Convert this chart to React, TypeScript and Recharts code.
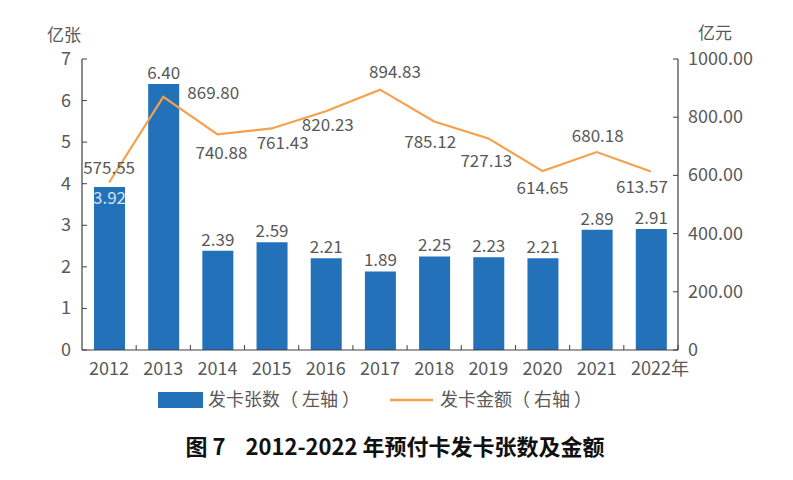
import React from 'react';
import { ComposedChart, Bar, Line, XAxis, YAxis, LabelList } from 'recharts';

const years = ['2012', '2013', '2014', '2015', '2016', '2017', '2018', '2019', '2020', '2021', '2022年'];
const cardCounts = [3.92, 6.40, 2.39, 2.59, 2.21, 1.89, 2.25, 2.23, 2.21, 2.89, 2.91];
const cardAmounts = [575.55, 869.80, 740.88, 761.43, 820.23, 894.83, 785.12, 727.13, 614.65, 680.18, 613.57];
const leftTicks = [0, 1, 2, 3, 4, 5, 6, 7];
const rightTicks = [0, 200, 400, 600, 800, 1000];

// label placement (dx, dy) relative to each line point
const amountLabelOffsets: [number, number][] = [
  [0, -15], [50, -4], [4, 19], [11, 15], [2, 14], [15, -18],
  [-4, 20], [-2, 23], [0, 17], [1, -16], [-9, 16],
];

const data = years.map((y, i) => ({ year: y, count: cardCounts[i], amount: cardAmounts[i] }));

const FONT = '"Noto Sans CJK SC", "Noto Sans", sans-serif';
const GRAY = '#595959';
const AXIS = '#404040';
const BLUE = '#2271b9';
const ORANGE = '#f7a04b';
const NB = '\u00A0';

const LeftTick = (p: any) => {
  const { x, y, payload } = p;
  return (
    <g>
      <line x1={x} x2={x + 5} y1={y} y2={y} stroke={AXIS} strokeWidth={1} />
      <text x={x - 11} y={y} dy={6} textAnchor="end" fontSize={18} fill={GRAY} fontFamily={FONT}>
        {payload.value}
      </text>
    </g>
  );
};

const RightTick = (p: any) => {
  const { x, y, payload } = p;
  const v = payload.value === 0 ? '0' : Number(payload.value).toFixed(2);
  return (
    <g>
      <line x1={x - 5} x2={x} y1={y} y2={y} stroke={AXIS} strokeWidth={1} />
      <text x={x + 10} y={y} dy={6} textAnchor="start" fontSize={18} fill={GRAY} fontFamily={FONT}>
        {v}
      </text>
    </g>
  );
};

const BottomTick = (p: any) => {
  const { x, y, payload, index } = p;
  const half = payload && payload.offset ? payload.offset : (678 - 82) / 11 / 2;
  const isLast = index === years.length - 1;
  return (
    <g>
      <line x1={x + half} x2={x + half} y1={y} y2={y - 5} stroke={AXIS} strokeWidth={1} />
      <text x={isLast ? x + 9 : x} y={y + 25} textAnchor="middle" fontSize={18} fill={GRAY} fontFamily={FONT}>
        {payload.value}
      </text>
    </g>
  );
};

const BarLabel = (p: any) => {
  const { x, y, width, value, index } = p;
  const inside = index === 0;
  return (
    <text
      x={x + width / 2}
      y={inside ? y + 11 : y - 11}
      dy={6}
      textAnchor="middle"
      fontSize={17}
      fill={inside ? '#d6e1ee' : GRAY}
      fontFamily={FONT}
    >
      {Number(value).toFixed(2)}
    </text>
  );
};

const LineLabel = (p: any) => {
  const { x, y, value, index } = p;
  const [dx, dy] = amountLabelOffsets[index] || [0, -12];
  return (
    <text x={x + dx} y={y + dy} dy={6} textAnchor="middle" fontSize={17} fill={GRAY} fontFamily={FONT}>
      {Number(value).toFixed(2)}
    </text>
  );
};

export default function App() {
  return (
    <div style={{ position: 'absolute', left: 0, top: 0, width: 793, height: 480, background: '#fff', fontFamily: FONT }}>
      <ComposedChart
        width={793}
        height={480}
        data={data}
        margin={{ top: 59, right: 0, bottom: 100, left: 0 }}
      >
        <XAxis
          dataKey="year"
          height={30}
          tickLine={false}
          tickSize={0}
          tickMargin={0}
          axisLine={{ stroke: AXIS, strokeWidth: 1.2 }}
          tick={<BottomTick />}
          interval={0}
        />
        <YAxis
          yAxisId="l"
          width={82}
          domain={[0, 7]}
          ticks={leftTicks}
          tickLine={false}
          tickSize={0}
          tickMargin={0}
          axisLine={{ stroke: AXIS, strokeWidth: 1.2 }}
          tick={<LeftTick />}
          interval={0}
        />
        <YAxis
          yAxisId="r"
          orientation="right"
          width={115}
          domain={[0, 1000]}
          ticks={rightTicks}
          tickLine={false}
          tickSize={0}
          tickMargin={0}
          axisLine={{ stroke: AXIS, strokeWidth: 1.2 }}
          tick={<RightTick />}
          interval={0}
        />
        <Bar yAxisId="l" dataKey="count" fill={BLUE} barSize={31} isAnimationActive={false}>
          <LabelList dataKey="count" content={<BarLabel />} />
        </Bar>
        <Line
          yAxisId="r"
          dataKey="amount"
          stroke={ORANGE}
          strokeWidth={2.2}
          dot={false}
          activeDot={false}
          type="linear"
          isAnimationActive={false}
        >
          <LabelList dataKey="amount" content={<LineLabel />} />
        </Line>
      </ComposedChart>

      <div style={{ position: 'absolute', left: 47, top: 24, fontSize: 17, color: GRAY, lineHeight: '20px' }}>亿张</div>
      <div style={{ position: 'absolute', left: 698, top: 22, fontSize: 17, color: GRAY, lineHeight: '20px' }}>亿元</div>

      <svg style={{ position: 'absolute', left: 0, top: 380 }} width={793} height={100}>
        <rect x={158} y={12} width={45} height={16} fill={BLUE} />
        <text x={208} y={20} dy={6} fontSize={18} fill={GRAY} fontFamily={FONT}>{`发卡张数（${NB}左轴${NB}）`}</text>
        <line x1={390} x2={433} y1={20} y2={20} stroke={ORANGE} strokeWidth={2.5} />
        <text x={440} y={20} dy={6} fontSize={18} fill={GRAY} fontFamily={FONT}>{`发卡金额（${NB}右轴${NB}）`}</text>
        <text x={395} y={67} dy={8} textAnchor="middle" fontSize={22} fontWeight={600} fill="#111" fontFamily={FONT}>
          {`图${NB}7${NB}${NB}${NB}${NB}2012-2022${NB}年预付卡发卡张数及金额`}
        </text>
      </svg>
    </div>
  );
}
